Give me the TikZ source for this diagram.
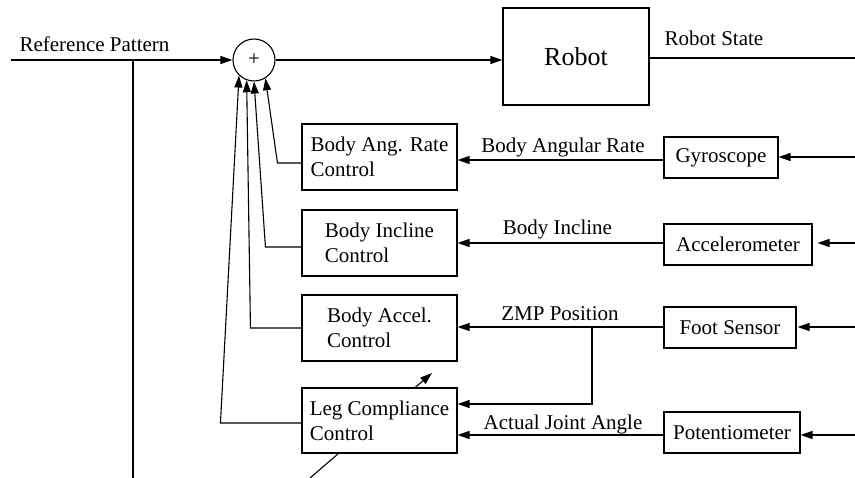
\documentclass[tikz,border=0pt]{standalone}
\usepackage{fontspec}
\setmainfont{Liberation Serif}
\usetikzlibrary{arrows.meta}
\newcommand\fsmain{\fontsize{21}{25}\selectfont}
\newcommand\fsbig{\fontsize{26}{30}\selectfont}
\begin{document}
\begin{tikzpicture}[x=1pt,y=-1pt,
  line width=1.1pt,
  box/.style={draw, fill=white, inner sep=0pt, align=left, font=\fsmain, minimum width=155pt, minimum height=66pt},
  sbox/.style={draw, fill=white, inner sep=0pt, font=\fsmain, minimum height=41pt},
  lbl/.style={inner sep=0pt, font=\fsmain, anchor=base},
  arr/.style={-{Triangle[length=12pt,width=8pt]}}]
\useasboundingbox (0,0) rectangle (855,478);

% coordinates
\coordinate (refin) at (11,60);
\coordinate (refbr) at (133,60);
\coordinate (refbot) at (133,478);
\coordinate (stateout) at (855,58);
\coordinate (gin) at (855,157);
\coordinate (ain) at (855,243);
\coordinate (fin) at (855,327);
\coordinate (pin) at (855,435);
\coordinate (zmpbr) at (592,327);
\coordinate (zmpend) at (592,404);
\coordinate (diagA) at (310,478);
\coordinate (diagB) at (432,373);

% diagonal adjustment arrow (behind leg box)
\draw[arr] (diagA) -- (diagB);

% blocks
\node[circle, draw, minimum size=42pt, inner sep=0pt, font=\fsmain] (sum) at (254,60) {+};
\node[box, minimum width=146pt, minimum height=97pt, font=\fsbig, align=center] (robot) at (576,56.5) {Robot};
\node[box] (rate) at (379.5,157) {Body Ang. Rate\\Control};
\node[box] (incl) at (379.5,243) {Body Incline\\Control};
\node[box] (accel) at (379.5,328) {Body Accel.\\Control};
\node[box, minimum height=65pt] (leg) at (379.5,420.5) {Leg Compliance\\Control};
\node[sbox, minimum width=114pt] (gyro) at (721,157.5) {Gyroscope};
\node[sbox, minimum width=148pt] (accm) at (738,244.5) {Accelerometer};
\node[sbox, minimum width=132pt] (foot) at (730,327.5) {Foot Sensor};
\node[sbox, minimum width=136pt] (pot) at (732,432.5) {Potentiometer};

% labels
\node[lbl] (lref) at (94.5,51.7) {Reference Pattern};
\node[lbl] (lstate) at (714,45.7) {Robot State};
\node[lbl] (lrate) at (563,153) {Body Angular Rate};
\node[lbl] (lincl) at (557.5,235) {Body Incline};
\node[lbl] (lzmp) at (560,320.7) {ZMP Position};
\node[lbl] (ljoint) at (563,430) {Actual Joint Angle};

% main path
\draw[arr] (refin) -- (sum.west);
\draw (refbr) -- (refbot);
\draw[arr] (sum.east) -- (sum.east -| robot.west);
\draw (robot.east |- stateout) -- (stateout);

% sensor inputs
\draw[arr] (gin) -- (gin -| gyro.east);
\draw[arr] (ain) -- ([xshift=5pt]ain -| accm.east);
\draw[arr] (fin) -- ([xshift=1pt]fin -| foot.east);
\draw[arr] (pin) -- (pin -| pot.east);

% sensor outputs
\draw[arr] ([yshift=-2.5pt]gyro.west) -- ([yshift=-2.5pt]gyro.west -| rate.east);
\draw[arr] (accm.west |- ain) -- (ain -| incl.east);
\draw[arr] (foot.west |- fin) -- (fin -| accel.east);
\draw[arr] (zmpbr) -- (zmpend) -- (zmpend -| leg.east);
\draw[arr] (pot.west |- pin) -- (pin -| leg.east);

% control outputs to summing junction
\draw[arr] ([yshift=-6pt]rate.west) -- ++(-24,0) -- (sum.302);
\draw[arr] ([yshift=-4pt]incl.west) -- ++(-36,0) -- (sum.270);
\draw[arr] (accel.west) -- ++(-51,0) -- (sum.250);
\draw[arr] ([yshift=-2.5pt]leg.west) -- ++(-81,0) -- (sum.226);
\end{tikzpicture}
\end{document}
